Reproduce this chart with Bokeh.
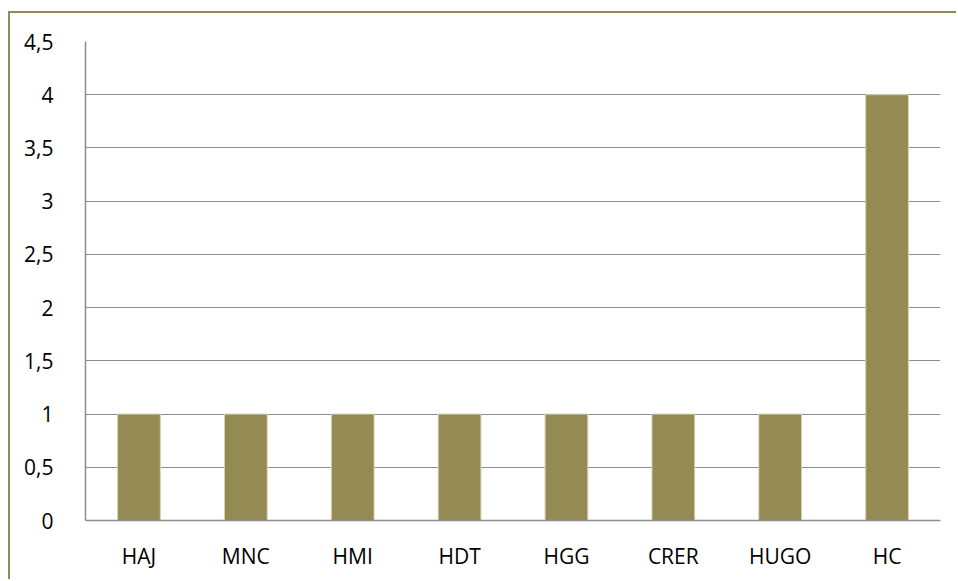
from bokeh.plotting import figure
from bokeh.models import FixedTicker, Range1d
from bokeh.embed import file_html
from bokeh.resources import INLINE

categories = ["HAJ", "MNC", "HMI", "HDT", "HGG", "CRER", "HUGO", "HC"]
values = [1, 1, 1, 1, 1, 1, 1, 4]
y_ticks = [0, 0.5, 1, 1.5, 2, 2.5, 3, 3.5, 4, 4.5]
y_tick_labels = ["0", "0,5", "1", "1,5", "2", "2,5", "3", "3,5", "4", "4,5"]

FONT = "Open Sans"
p = figure(x_range=categories, y_range=Range1d(0, 4.5), width=948, height=568,
           output_backend="svg", toolbar_location=None,
           min_border_left=75, min_border_top=28, min_border_right=18, min_border_bottom=61)
p.margin = (11, 0, 0, 8)
p.styles = {"border-left": "2px solid #948A54", "border-top": "2px solid #948A54"}
p.vbar(x=categories, top=values, width=0.4, fill_color="#948A54",
       line_color="#D8D2B5", line_width=1)

p.outline_line_color = None
p.background_fill_color = "white"
p.border_fill_color = "white"

p.yaxis.ticker = FixedTicker(ticks=y_ticks)
p.yaxis.major_label_overrides = {t: l for t, l in zip(y_ticks, y_tick_labels)}
for ax in (p.xaxis[0], p.yaxis[0]):
    ax.axis_line_color = "#8C8C8C"
    ax.axis_line_width = 1.5
    ax.major_tick_line_color = None
    ax.minor_tick_line_color = None
    ax.major_label_text_font = FONT
    ax.major_label_text_font_size = "21px"
    ax.major_label_text_color = "black"
p.yaxis.major_label_standoff = 26
p.xaxis.major_label_standoff = 15
p.xgrid.grid_line_color = None
p.ygrid.grid_line_color = "#8C8C8C"
p.ygrid.grid_line_width = 1.2

open("out.html", "w").write(file_html(p, INLINE))
